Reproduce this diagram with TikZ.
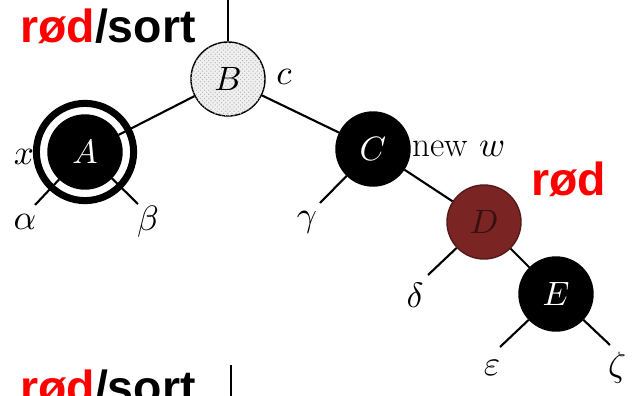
\documentclass[tikz,border=0pt]{standalone}
\usepackage{fontspec}
\setsansfont{Liberation Sans}
\usepackage{amsmath}
\DeclareFontShape{OML}{cmm}{m}{it}{<->cmmi10}{}
\usetikzlibrary{patterns}
\definecolor{rbred}{RGB}{255,0,0}
\definecolor{dnode}{RGB}{122,36,36}
\tikzset{
  treenode/.style={circle,draw,line width=1pt,minimum size=1.85cm,inner sep=0pt,font=\fontsize{24}{28}\selectfont},
  blacknode/.style={treenode,fill=black,text=white},
  rednode/.style={treenode,draw=dnode!70!black,fill=dnode,text=dnode!45!black},
  graynode/.style={treenode,fill=gray!12,postaction={pattern=crosshatch dots,pattern color=gray!55}},
  ringnode/.style={circle,draw,line width=5pt,minimum size=2.43cm,inner sep=0pt},
  treeedge/.style={line width=1.5pt},
  lbl/.style={font=\fontsize{25}{29}\selectfont,inner sep=1pt},
  note/.style={font=\sffamily\bfseries\fontsize{33}{38}\selectfont,anchor=base west,inner sep=0pt},
}
\begin{document}
\begin{tikzpicture}[x=0.025cm,y=-0.025cm]
  \useasboundingbox (0,0) rectangle (641,396);
  \clip (0,0) rectangle (641,396);

  \node[note] (rs1) at (20,42) {\textcolor{rbred}{rød}/sort};
  \node[note,text=rbred] (rod) at (531,195) {rød};
  \node[note] (rs2) at (20,403) {\textcolor{rbred}{rød}/sort};

  \node[graynode] (B) at (228,79) {$B$};
  \node[blacknode] (A) at (85,152) {$A$};
  \node[blacknode] (C) at (373,149) {$C$};
  \node[rednode] (D) at (484,222) {$D$};
  \node[blacknode] (E) at (556,294) {$E$};

  \node[lbl] (c) at (284,77) {$c$};
  \node[lbl] (x) at (24,157) {$x$};
  \node[lbl,anchor=west] (neww) at (411,149) {new $w$};
  \node[lbl] (alpha) at (25,222) {$\alpha$};
  \node[lbl] (beta) at (148,222) {$\beta$};
  \node[lbl] (gamma) at (307,222) {$\gamma$};
  \node[lbl] (delta) at (415,295) {$\delta$};
  \node[lbl] (eps) at (492,368) {$\varepsilon$};
  \node[lbl] (zeta) at (617,368) {$\zeta$};

  \coordinate (top) at (228,0);
  \coordinate (a1) at (35,205);
  \coordinate (a2) at (138,204);
  \coordinate (c1) at (320,203);
  \coordinate (d1) at (428,275);
  \coordinate (e1) at (500,347);
  \coordinate (e2) at (610,345);
  \coordinate (bt) at (231,365);
  \coordinate (bb) at (231,396);

  \draw[treeedge] (top) -- (B);
  \draw[treeedge] (B) -- (A);
  \draw[treeedge] (B) -- (C);
  \draw[treeedge] (C) -- (D);
  \draw[treeedge] (D) -- (E);
  \draw[treeedge] (A) -- (a1);
  \draw[treeedge] (A) -- (a2);
  \draw[treeedge] (C) -- (c1);
  \draw[treeedge] (D) -- (d1);
  \draw[treeedge] (E) -- (e1);
  \draw[treeedge] (E) -- (e2);
  \draw[treeedge] (bt) -- (bb);

  \node[ringnode] (ring) at (A) {};
\end{tikzpicture}
\end{document}
